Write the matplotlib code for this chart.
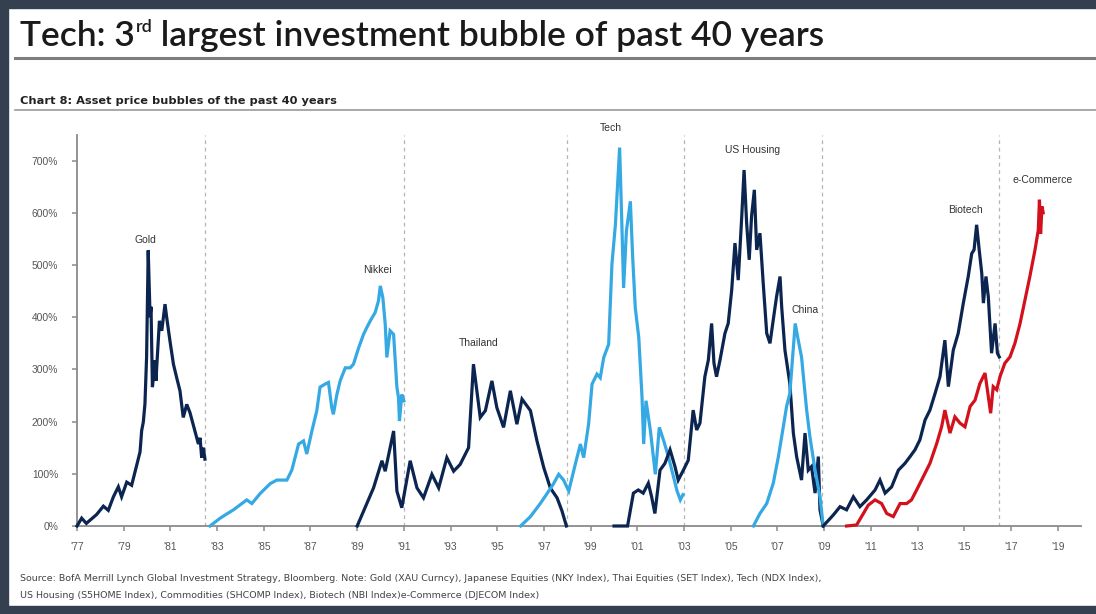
import matplotlib
matplotlib.use('Agg')
import matplotlib.pyplot as plt
from matplotlib.patches import Rectangle
from matplotlib.lines import Line2D

# ---------------- data (year, % gain from start) ----------------
gold_year = [1977.0, 1977.2, 1977.4, 1977.84, 1978.13, 1978.34, 1978.56, 1978.77, 1978.91, 1979.13,
             1979.34, 1979.56, 1979.7, 1979.77, 1979.84, 1979.91, 1979.98, 1980.05, 1980.13, 1980.17,
             1980.23, 1980.34, 1980.38, 1980.53, 1980.63, 1980.77, 1980.84, 1980.98, 1981.13, 1981.27,
             1981.41, 1981.55, 1981.70, 1981.84, 1982.05, 1982.2, 1982.27, 1982.34, 1982.41, 1982.48]
gold_pct = [0, 15, 5, 22, 38, 30, 56, 75, 56, 84,
            78, 117, 142, 183, 199, 234, 323, 528, 400, 420,
            266, 317, 278, 393, 374, 425, 400, 355, 310, 284,
            259, 208, 233, 217, 182, 157, 169, 131, 150, 128]

nikkei_year = [1982.70, 1983.13, 1983.70, 1984.27, 1984.49, 1984.84, 1985.27, 1985.56, 1985.99, 1986.20,
               1986.49, 1986.70, 1986.84, 1987.06, 1987.27, 1987.41, 1987.63, 1987.77, 1987.91, 1987.98,
               1988.13, 1988.27, 1988.49, 1988.70, 1988.84, 1989.06, 1989.27, 1989.41, 1989.56, 1989.77,
               1989.91, 1989.99, 1990.10, 1990.20, 1990.27, 1990.41, 1990.56, 1990.70, 1990.77, 1990.81,
               1990.91, 1991.0]
nikkei_pct = [0, 15, 31, 50, 43, 62, 81, 88, 88, 107,
              157, 163, 138, 182, 221, 266, 272, 275, 227, 214,
              252, 278, 303, 303, 310, 341, 367, 380, 393, 409,
              431, 460, 437, 387, 323, 374, 367, 266, 246, 201,
              252, 240]

thai_year = [1989.0, 1989.70, 1990.06, 1990.20, 1990.56, 1990.70, 1990.91, 1991.27, 1991.56, 1991.84,
             1992.20, 1992.49, 1992.84, 1993.13, 1993.41, 1993.77, 1993.98, 1994.27, 1994.49, 1994.77,
             1994.98, 1995.27, 1995.56, 1995.84, 1996.06, 1996.42, 1996.70, 1996.99, 1997.27, 1997.56,
             1997.77, 1997.96]
thai_pct = [0, 73, 125, 105, 182, 67, 35, 125, 73, 54,
            99, 73, 131, 105, 118, 150, 310, 208, 221, 278,
            227, 189, 259, 195, 243, 221, 163, 112, 73, 54,
            29, 0]

tech_year = [1996.0, 1996.42, 1996.84, 1997.13, 1997.41, 1997.63, 1997.84, 1998.06, 1998.34, 1998.56,
             1998.70, 1998.91, 1999.06, 1999.27, 1999.41, 1999.56, 1999.77, 1999.91, 2000.06, 2000.24,
             2000.34, 2000.41, 2000.53, 2000.70, 2000.80, 2000.91, 2001.06, 2001.20, 2001.27, 2001.37,
             2001.56, 2001.77, 2001.94, 2002.13, 2002.34, 2002.56, 2002.70, 2002.84, 2002.95]
tech_pct = [0, 18, 43, 62, 81, 99, 88, 67, 118, 157,
            131, 195, 272, 291, 284, 323, 348, 501, 578, 725,
            571, 456, 565, 622, 514, 418, 361, 246, 157, 240,
            182, 99, 189, 163, 131, 92, 67, 50, 60]

housing_year = [2000.0, 2000.58, 2000.83, 2001.04, 2001.25, 2001.47, 2001.61, 2001.75, 2001.97, 2002.18,
                2002.40, 2002.61, 2002.75, 2002.97, 2003.18, 2003.39, 2003.54, 2003.68, 2003.89, 2004.04,
                2004.18, 2004.28, 2004.39, 2004.54, 2004.75, 2004.89, 2005.04, 2005.18, 2005.32, 2005.47,
                2005.57, 2005.68, 2005.79, 2005.89, 2006.01, 2006.11, 2006.25, 2006.39, 2006.54, 2006.68,
                2006.82, 2006.96, 2007.11, 2007.18, 2007.32, 2007.53, 2007.68, 2007.82, 2008.03, 2008.18,
                2008.32, 2008.46, 2008.61, 2008.75, 2008.82, 2008.96]
housing_pct = [0, 0, 63, 69, 63, 82, 56, 24, 107, 120,
               146, 114, 88, 107, 126, 222, 184, 197, 286, 318,
               388, 312, 286, 318, 369, 388, 452, 542, 471, 593,
               682, 580, 510, 593, 644, 529, 561, 465, 369, 350,
               395, 439, 478, 420, 337, 273, 178, 133, 88, 178,
               107, 114, 63, 133, 31, 0]

china_year = [2005.97, 2006.25, 2006.54, 2006.82, 2007.04, 2007.25, 2007.39, 2007.53, 2007.65, 2007.76,
              2007.89, 2008.03, 2008.25, 2008.39, 2008.61, 2008.82, 2008.96]
china_pct = [0, 24, 43, 82, 133, 190, 229, 254, 324, 388,
             356, 324, 222, 171, 107, 56, 0]

biotech_year = [2008.96, 2009.39, 2009.68, 2009.96, 2010.25, 2010.53, 2010.82, 2011.18, 2011.39, 2011.61,
                2011.89, 2012.18, 2012.46, 2012.68, 2012.89, 2013.10, 2013.32, 2013.53, 2013.75, 2013.96,
                2014.17, 2014.32, 2014.53, 2014.74, 2014.96, 2015.17, 2015.32, 2015.42, 2015.53, 2015.64,
                2015.75, 2015.82, 2015.93, 2016.03, 2016.17, 2016.32, 2016.42, 2016.50]
biotech_pct = [0, 21, 37, 31, 56, 37, 50, 69, 88, 63,
               75, 107, 120, 133, 146, 165, 203, 222, 254, 286,
               356, 267, 337, 369, 427, 478, 522, 529, 577, 529,
               484, 427, 478, 439, 331, 388, 331, 324]

ecom_year = [2009.96, 2010.39, 2010.68, 2010.89, 2011.18, 2011.46, 2011.68, 2011.96, 2012.25, 2012.53,
             2012.74, 2012.96, 2013.24, 2013.53, 2013.82, 2014.03, 2014.17, 2014.39, 2014.60, 2014.82,
             2015.03, 2015.25, 2015.46, 2015.67, 2015.89, 2016.03, 2016.13, 2016.24, 2016.39, 2016.53,
             2016.74, 2016.96, 2017.17, 2017.39, 2017.60, 2017.81, 2018.03, 2018.17, 2018.22, 2018.27,
             2018.33, 2018.38]
ecom_pct = [0, 2, 24, 40, 50, 43, 24, 18, 43, 43,
            50, 69, 94, 120, 158, 190, 222, 178, 209, 197,
            190, 229, 241, 273, 293, 248, 216, 267, 261, 286,
            312, 324, 350, 388, 433, 478, 529, 567, 625, 560,
            612, 600]

bubble_names = ["Gold", "Nikkei", "Thailand", "Tech", "US Housing", "China", "Biotech", "e-Commerce"]
label_year = [1979.95, 1989.85, 1994.2, 1999.85, 2005.95, 2008.2, 2015.05, 2018.35]
label_pct = [548, 490, 351, 762, 720, 414, 605, 663]

divider_years = [1982.5, 1991.0, 1998.0, 2003.0, 2008.9, 2016.5]

x_ticks = list(range(1977, 2020, 2))
x_ticklabels = ["'%02d" % (y % 100) for y in x_ticks]
y_ticks = [0, 100, 200, 300, 400, 500, 600, 700]
y_ticklabels = ["%d%%" % v for v in y_ticks]

title_main = "Tech: 3"
title_sup = "rd"
title_rest = " largest investment bubble of past 40 years"
subtitle = "Chart 8: Asset price bubbles of the past 40 years"
source_1 = ("Source: BofA Merrill Lynch Global Investment Strategy, Bloomberg. Note: Gold (XAU Curncy), "
            "Japanese Equities (NKY Index), Thai Equities (SET Index), Tech (NDX Index),")
source_2 = ("US Housing (S5HOME Index), Commodities (SHCOMP Index), Biotech (NBI Index)e-Commerce "
            "(DJECOM Index)")

# ---------------- styling ----------------
NAVY = "#0c2550"
LIGHT = "#35a9e4"
RED = "#d3111d"
W, H = 1096, 614

fig = plt.figure(figsize=(W / 100, H / 100), dpi=100)
fig.patch.set_facecolor("white")

# frame
frame_c = "#34404f"
fig.patches.append(Rectangle((0, 1 - 8 / H), 1, 8 / H, transform=fig.transFigure, color=frame_c, zorder=0))
fig.patches.append(Rectangle((0, 0), 8 / W, 1, transform=fig.transFigure, color=frame_c, zorder=0))
fig.patches.append(Rectangle((0, 0), 1, 8 / H, transform=fig.transFigure, color=frame_c, zorder=0))

# title rule + subtitle rule
fig.add_artist(Line2D([15 / W, 1], [1 - 58 / H] * 2, transform=fig.transFigure, color="#7d7d7d", lw=2.2))
fig.add_artist(Line2D([15 / W, 1], [1 - 110 / H] * 2, transform=fig.transFigure, color="#9a9a9a", lw=1.2))

title_fam = ["Lato", "DejaVu Sans"]
title_kw = dict(fontsize=25.5, color="#1a1a1a", family=title_fam, fontweight="semibold")
t1 = fig.text(20 / W, 1 - 46 / H, title_main, va="baseline", ha="left", **title_kw)
fig.canvas.draw()
r = fig.canvas.get_renderer()
bb = t1.get_window_extent(r)
t2 = fig.text(bb.x1 / W + 1 / W, 1 - 32 / H, title_sup, va="baseline", ha="left",
              fontsize=13, color="#1a1a1a", family=title_fam, fontweight="semibold")
bb2 = t2.get_window_extent(r)
fig.text(bb2.x1 / W, 1 - 46 / H, title_rest, va="baseline", ha="left", **title_kw)

narrow = ["Liberation Sans Narrow", "DejaVu Sans"]
fig.text(20 / W, 1 - 104 / H, subtitle, va="baseline", ha="left", fontsize=8.2,
         fontweight="bold", color="#222222", family=narrow)

fig.text(20 / W, 1 - 581 / H, source_1, va="baseline", ha="left", fontsize=6.8, color="#444444", family=narrow)
fig.text(20 / W, 1 - 598 / H, source_2, va="baseline", ha="left", fontsize=6.8, color="#444444", family=narrow)

# ---------------- axes ----------------
ax = fig.add_axes([77 / W, (H - 526) / H, 1004 / W, (526 - 134.5) / H])
ax.set_xlim(1977, 2020)
ax.set_ylim(0, 750)

for dy in divider_years:
    ax.axvline(dy, color="#b5b5b5", lw=0.9, ls=(0, (3, 3)), zorder=1)

series = [
    (gold_year, gold_pct, NAVY),
    (nikkei_year, nikkei_pct, LIGHT),
    (thai_year, thai_pct, NAVY),
    (tech_year, tech_pct, LIGHT),
    (housing_year, housing_pct, NAVY),
    (china_year, china_pct, LIGHT),
    (biotech_year, biotech_pct, NAVY),
    (ecom_year, ecom_pct, RED),
]
for xs, ys, c in series:
    ax.plot(xs, ys, color=c, lw=2.3, solid_joinstyle="miter", clip_on=False, zorder=3)

for name, lx, ly in zip(bubble_names, label_year, label_pct):
    ax.text(lx, ly, name, ha="center", va="center", fontsize=7.5, color="#333333",
            family=["Liberation Sans", "DejaVu Sans"], zorder=4)

for s in ("top", "right"):
    ax.spines[s].set_visible(False)
for s in ("left", "bottom"):
    ax.spines[s].set_color("#8a8a8a")
    ax.spines[s].set_linewidth(1.3)

ax.set_xticks(x_ticks)
ax.set_xticklabels(x_ticklabels)
ax.set_yticks(y_ticks)
ax.set_yticklabels(y_ticklabels)
ax.tick_params(axis="both", colors="#8a8a8a", labelcolor="#555555", labelsize=7.4, length=3.5, width=1.1)
ax.tick_params(axis="y", pad=10)
ax.tick_params(axis="x", pad=8)
for lab in ax.get_xticklabels() + ax.get_yticklabels():
    lab.set_family(["Liberation Sans", "DejaVu Sans"])

fig.savefig("out.png", dpi=100, facecolor="white")
